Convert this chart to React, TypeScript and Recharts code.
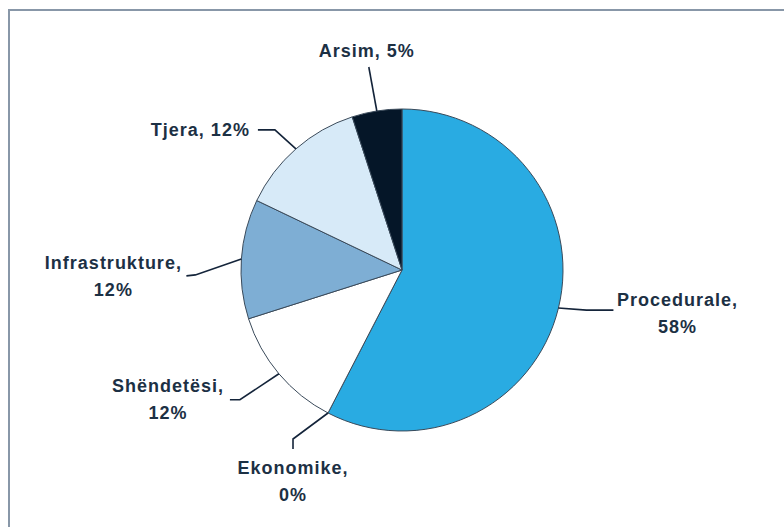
import React from "react";
import { PieChart, Pie, Cell } from "recharts";

// Data (clockwise from 12 o'clock)
const categories = ["Procedurale", "Ekonomike", "Shëndetësi", "Infrastrukture", "Tjera", "Arsim"];
const shares = [57.6, 0, 12.5, 12.0, 12.9, 5.0];
const percentLabels = ["58%", "0%", "12%", "12%", "12%", "5%"];
const colors = ["#29abe2", "#ffffff", "#ffffff", "#7eaed4", "#d7eaf8", "#051628"];
const colorsFixed = ["#29abe2", "#ffffff", "#ffffff", "#7eaed4", "#d7eaf8", "#051628"];

const data = categories.map((name, i) => ({ name, value: shares[i] }));

// Label layout: leader polyline points and text offsets relative to the slice's edge point
type Layout = { pts: [number, number][]; tx: number; ty: number; anchor: "start" | "middle" | "end"; twoLines: boolean };
const labelLayout: Layout[] = [
  { pts: [[28, 2], [55, 2]], tx: 119, ty: -2, anchor: "middle", twoLines: true },
  { pts: [[-35, 26], [-35, 36]], tx: -35, ty: 61, anchor: "middle", twoLines: true },
  { pts: [[-39, 26], [-49, 26]], tx: -111, ty: 18, anchor: "middle", twoLines: true },
  { pts: [[-46, 16], [-55, 17]], tx: -128, ty: 10, anchor: "middle", twoLines: true },
  { pts: [[-21, -19], [-38, -19]], tx: -46, ty: -13, anchor: "end", twoLines: false },
  { pts: [[-8, -44]], tx: -10, ty: -54, anchor: "middle", twoLines: false },
];

const RAD = Math.PI / 180;
const TEXT_COLOR = "#1c3044";
const FONT = "'Liberation Sans', Arial, sans-serif";

const renderLabel = (props: any) => {
  const { cx, cy, midAngle, outerRadius, index } = props;
  const lay = labelLayout[index];
  if (!lay) return null;
  const x0 = cx + outerRadius * Math.cos(-midAngle * RAD);
  const y0 = cy + outerRadius * Math.sin(-midAngle * RAD);
  const pts = [[x0, y0], ...lay.pts.map(([dx, dy]) => [x0 + dx, y0 + dy])];
  const d = pts.map((p, i) => `${i === 0 ? "M" : "L"}${p[0]},${p[1]}`).join(" ");
  const tx = x0 + lay.tx;
  const ty = y0 + lay.ty;
  const name = categories[index];
  const pct = percentLabels[index];
  return (
    <g key={`lbl-${index}`}>
      <path d={d} stroke="#14243a" strokeWidth={1.6} fill="none" />
      {lay.twoLines ? (
        <text x={tx} y={ty} textAnchor={lay.anchor} fill={TEXT_COLOR} fontFamily={FONT} fontWeight="bold" fontSize={18} letterSpacing={1}>
          <tspan x={tx} dy={0}>{`${name},`}</tspan>
          <tspan x={tx} dy={27}>{pct}</tspan>
        </text>
      ) : (
        <text x={tx} y={ty} textAnchor={lay.anchor} fill={TEXT_COLOR} fontFamily={FONT} fontWeight="bold" fontSize={18} letterSpacing={1}>
          {`${name}, ${pct}`}
        </text>
      )}
    </g>
  );
};

export default function App() {
  return (
    <div style={{ position: "absolute", left: 0, top: 0, width: 784, height: 527, background: "#ffffff" }}>
      <PieChart width={784} height={527} margin={{ top: 0, right: 0, bottom: 0, left: 0 }}>
        <path d="M9,527 V10 H784" stroke="#8897a8" strokeWidth={2} fill="none" />
        <Pie
          data={data}
          dataKey="value"
          nameKey="name"
          cx={402}
          cy={270}
          outerRadius={161}
          startAngle={90}
          endAngle={-270}
          stroke="#3a4a5a"
          strokeWidth={1}
          isAnimationActive={false}
          label={renderLabel}
          labelLine={false}
        >
          {data.map((_, i) => (
            <Cell key={i} fill={colorsFixed[i] || colors[i]} />
          ))}
        </Pie>
      </PieChart>
    </div>
  );
}
